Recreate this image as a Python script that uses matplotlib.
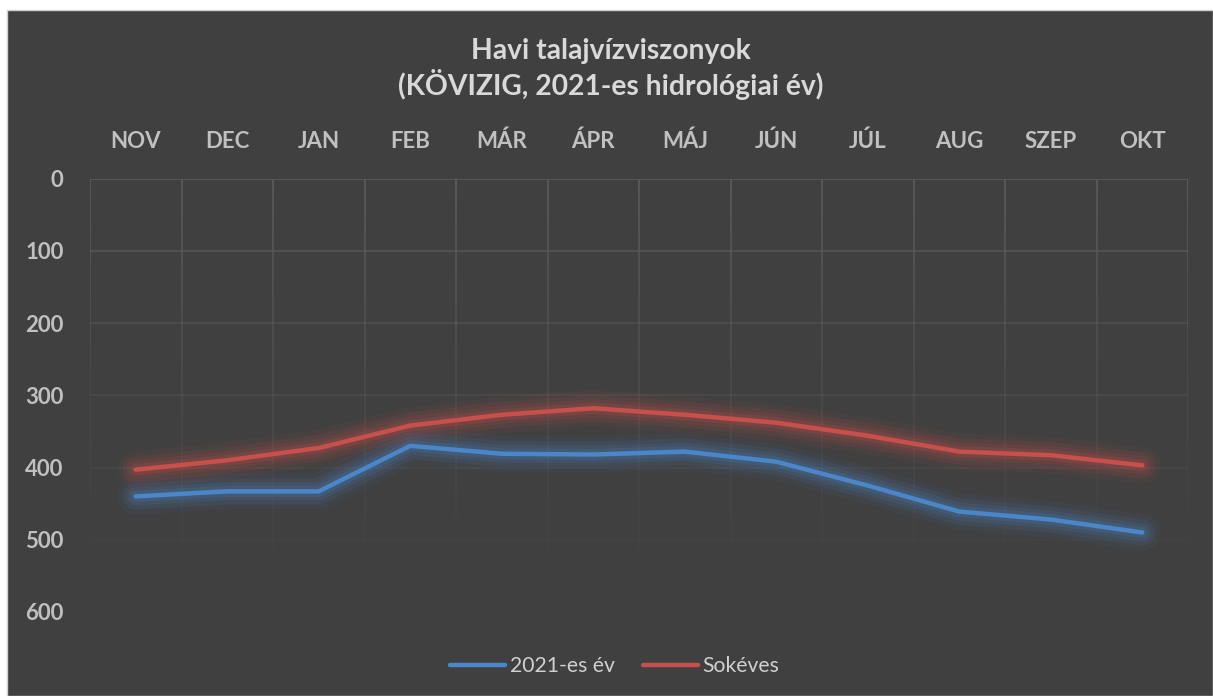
import numpy as np
import matplotlib
matplotlib.use("Agg")
from matplotlib import pyplot as plt
from matplotlib.patches import Rectangle

# data (depth, cm)
months = ['NOV', 'DEC', 'JAN', 'FEB', 'MÁR', 'ÁPR', 'MÁJ', 'JÚN', 'JÚL', 'AUG', 'SZEP', 'OKT']
ev_2021 = [440, 433, 433, 370, 381, 382, 378, 392, 425, 461, 472, 490]
sokeves = [403, 390, 373, 342, 327, 318, 327, 338, 356, 378, 383, 397]
y_ticks = [0, 100, 200, 300, 400, 500, 600]

BG = '#404040'
GRID = '#5a5a5a'
TXT = '#c0c0c0'
BLUE = '#4a86c8'
RED = '#c8504c'

plt.rcParams['font.family'] = ['Lato', 'DejaVu Sans']

fig = plt.figure(figsize=(12.13, 6.96), dpi=100)
fig.patch.set_facecolor('white')
fig.patches.append(Rectangle((7 / 1213, 0), 1 - 7 / 1213, 1 - 10 / 696, transform=fig.transFigure,
                             facecolor=BG, edgecolor='#d0d0d0', linewidth=1, zorder=-10))

ax = fig.add_axes([90 / 1213, 1 - 612 / 696, (1188 - 90) / 1213, (612 - 178.5) / 696])
ax.set_facecolor(BG)
x = np.arange(len(months))
ax.set_xlim(-0.5, len(months) - 0.5)
ax.set_ylim(600, 0)

# fading grid (gets fainter with depth)
n = 40
edges = np.linspace(0, 600, n + 1)
for i in range(n):
    a = max(0.0, 1 - (edges[i] / 600) ** 0.9) ** 1.3
    ax.vlines(np.arange(-0.5, len(months)), edges[i], edges[i + 1], color=GRID, lw=1.3, alpha=a, zorder=1)
for v in y_ticks:
    a = max(0.0, 1 - (v / 600) ** 0.9) ** 1.3
    ax.axhline(v, color=GRID, lw=1.3, alpha=a, zorder=1)

# soft glow under each line
for vals, col, lab in [(ev_2021, BLUE, '2021-es év'), (sokeves, RED, 'Sokéves')]:
    for w, al in [(26, 0.07), (19, 0.1), (13, 0.13), (8, 0.18)]:
        ax.plot(x, vals, color=col, lw=w, alpha=al, solid_capstyle='round', solid_joinstyle='round', zorder=2)
    ax.plot(x, vals, color=col, lw=3.2, solid_capstyle='round', solid_joinstyle='round', zorder=3, label=lab)

for s in ax.spines.values():
    s.set_visible(False)

ax.xaxis.tick_top()
ax.set_xticks(x)
ax.set_xticklabels(months, fontsize=16, fontweight='bold', color=TXT)
ax.set_yticks(y_ticks)
ax.set_yticklabels([str(v) for v in y_ticks], fontsize=16, fontweight='bold', color=TXT)
ax.tick_params(axis='x', length=0, pad=19)
ax.tick_params(axis='y', length=0, pad=19)

fig.text(611 / 1213, 1 - 69 / 696, 'Havi talajvízviszonyok\n(KÖVIZIG, 2021-es hidrológiai év)', ha='center', va='center',
         fontsize=20.3, fontweight='bold', color='#d9d9d9', linespacing=1.22)

leg = ax.legend(loc='center', bbox_to_anchor=(615 / 1213, 1 - 666 / 696), bbox_transform=fig.transFigure,
                ncol=2, frameon=False, fontsize=15.2, handlelength=2.6, columnspacing=1.3, handletextpad=0.24)
for t in leg.get_texts():
    t.set_color('#d0d0d0')

fig.savefig('out.png', dpi=100, facecolor=fig.get_facecolor())
